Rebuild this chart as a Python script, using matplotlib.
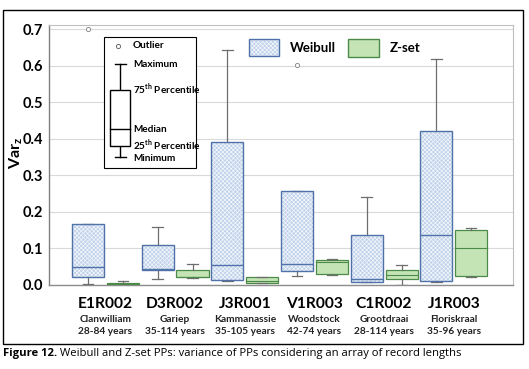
import numpy as np
import matplotlib
import matplotlib.pyplot as plt
import matplotlib.patches as mpatches
from matplotlib import transforms

plt.rcParams['font.family'] = ['Lato', 'DejaVu Sans']
plt.rcParams['mathtext.fontset'] = 'custom'
plt.rcParams['mathtext.rm'] = 'Lato:bold'
plt.rcParams['hatch.linewidth'] = 0.5

sites = ["E1R002", "D3R002", "J3R001", "V1R003", "C1R002", "J1R003"]
names = ["Clanwilliam", "Gariep", "Kammanassie", "Woodstock", "Grootdraai", "Floriskraal"]
spans = ["28-84 years", "35-114 years", "35-105 years", "42-74 years", "28-114 years", "35-96 years"]

# Weibull PPs - variance, box stats
wb_min = [0.003, 0.017, 0.011, 0.025, 0.007, 0.008]
wb_q1 = [0.021, 0.040, 0.015, 0.037, 0.008, 0.010]
wb_med = [0.049, 0.044, 0.056, 0.058, 0.017, 0.137]
wb_q3 = [0.168, 0.110, 0.392, 0.257, 0.137, 0.421]
wb_max = [0.168, 0.158, 0.644, 0.257, 0.240, 0.617]
wb_out = [[0.700], [], [], [0.601], [], []]

# Z-set PPs
zs_min = [0.000, 0.019, 0.005, 0.028, 0.001, 0.023]
zs_q1 = [0.001, 0.021, 0.006, 0.031, 0.016, 0.024]
zs_med = [0.003, 0.023, 0.012, 0.064, 0.027, 0.102]
zs_q3 = [0.005, 0.042, 0.021, 0.069, 0.040, 0.151]
zs_max = [0.011, 0.058, 0.022, 0.070, 0.054, 0.155]
zs_out = [[], [], [], [], [], []]

yticks = [0.0, 0.1, 0.2, 0.3, 0.4, 0.5, 0.6, 0.7]

W, H = 529, 369


def px(x, y):
    # pixel position -> figure fraction
    return x / W, 1 - y / H


def mkstats(lo, q1, med, q3, hi, out):
    return [dict(whislo=a, q1=b, med=c, q3=d, whishi=e, fliers=f)
            for a, b, c, d, e, f in zip(lo, q1, med, q3, hi, out)]


fig = plt.figure(figsize=(W / 100, H / 100), dpi=100)
ax = fig.add_axes([49 / W, 1 - 285 / H, (513 - 49) / W, (285 - 25) / H])

x = np.arange(len(sites))
wcol = '#4f72a8'
wfill = '#c0d2eb'
hatch = 'xxxxxxxx'
whisk = dict(color='#6e6e6e', linewidth=0.9)
flier = dict(marker='o', markersize=3, markerfacecolor='white',
             markeredgecolor='#7f7f7f', markeredgewidth=0.6)

bw = ax.bxp(mkstats(wb_min, wb_q1, wb_med, wb_q3, wb_max, wb_out),
            positions=x - 0.25, widths=0.46, capwidths=0.15, patch_artist=True,
            boxprops=dict(facecolor=wfill, edgecolor='#f4f7fb', hatch=hatch, linewidth=0.0),
            medianprops=dict(color=wcol, linewidth=1.0),
            whiskerprops=whisk, capprops=whisk, flierprops=flier,
            manage_ticks=False, zorder=3)
for b in bw['boxes']:
    ax.add_patch(mpatches.PathPatch(b.get_path(), facecolor='none', edgecolor=wcol,
                                    linewidth=1.0, zorder=3.5))

ax.bxp(mkstats(zs_min, zs_q1, zs_med, zs_q3, zs_max, zs_out),
       positions=x + 0.25, widths=0.46, capwidths=0.15, patch_artist=True,
       boxprops=dict(facecolor='#c4e4b5', edgecolor='#4c8a48', linewidth=0.9),
       medianprops=dict(color='#4c8a48', linewidth=0.8),
       whiskerprops=whisk, capprops=whisk, flierprops=flier,
       manage_ticks=False, zorder=3)

ax.set_xlim(-0.81, 5.85)
ax.set_ylim(0, 0.711)
ax.set_yticks(yticks)
ax.set_yticklabels(['%.1f' % v for v in yticks], fontsize=10.5, fontweight='bold')
ax.set_xticks([])
ax.tick_params(axis='y', length=0, pad=4)
ax.yaxis.grid(True, color='#d9d9d9', linewidth=0.8, zorder=0)
ax.set_axisbelow(True)
for s in ['top', 'right']:
    ax.spines[s].set_color('#bfbfbf')
ax.spines['left'].set_color('#808080')
ax.spines['bottom'].set_color('#8c8c8c')
ax.spines['left'].set_linewidth(1.0)
ax.spines['bottom'].set_linewidth(1.0)

fig.text(*px(16, 153), 'Var$_\\mathregular{z}$', rotation=90, fontsize=11.5,
         fontweight='bold', ha='center', va='center')

# category labels under the plot
tr = transforms.blended_transform_factory(ax.transData, fig.transFigure)
for i in range(len(sites)):
    fig.text(x[i], px(0, 304)[1], sites[i], transform=tr, ha='center', va='center',
             fontsize=11.2, fontweight='bold')
    fig.text(x[i], px(0, 319)[1], names[i], transform=tr, ha='center', va='center',
             fontsize=7.3, fontweight='bold', color='#222222')
    fig.text(x[i], px(0, 332)[1], spans[i], transform=tr, ha='center', va='center',
             fontsize=7.3, fontweight='bold', color='#222222')

# series legend
fig.patches.append(mpatches.Rectangle(px(249, 56), 30 / W, 17 / H, transform=fig.transFigure,
                                      facecolor=wfill, edgecolor='#f4f7fb', hatch=hatch, lw=0))
fig.patches.append(mpatches.Rectangle(px(249, 56), 30 / W, 17 / H, transform=fig.transFigure,
                                      facecolor='none', edgecolor=wcol, lw=1.0))
fig.text(*px(290, 48), 'Weibull', fontsize=9.5, fontweight='bold', va='center')
fig.patches.append(mpatches.Rectangle(px(348, 56.5), 31 / W, 17.5 / H, transform=fig.transFigure,
                                      facecolor='#c4e4b5', edgecolor='#4c8a48', lw=1.0))
fig.text(*px(390, 48), 'Z-set', fontsize=9.5, fontweight='bold', va='center')

# box-plot key
fig.patches.append(mpatches.Rectangle(px(104, 168), 92 / W, 131 / H, transform=fig.transFigure,
                                      facecolor='white', edgecolor='black', lw=0.8, zorder=5))
kfs = 7.2
fig.add_artist(plt.Line2D(*zip(px(118, 46)), marker='o', markersize=3, markerfacecolor='white',
                          markeredgecolor='#555555', markeredgewidth=0.6, zorder=6))
fig.text(*px(133, 46), 'Outlier', fontsize=kfs, fontweight='bold', va='center', zorder=6)
kx0, kx1, kc = 110, 130, 120
for y0, y1 in [(64, 90), (146, 157)]:
    fig.add_artist(plt.Line2D(*zip(px(kc, y0), px(kc, y1)), color='black', lw=1.0, zorder=6))
for yc in [64, 157]:
    fig.add_artist(plt.Line2D(*zip(px(kc - 5.5, yc), px(kc + 5.5, yc)), color='black', lw=1.0, zorder=6))
fig.patches.append(mpatches.Rectangle(px(kx0, 146), (kx1 - kx0) / W, 56 / H, transform=fig.transFigure,
                                      facecolor='white', edgecolor='black', lw=1.0, zorder=6))
fig.add_artist(plt.Line2D(*zip(px(kx0, 128.5), px(kx1, 128.5)), color='black', lw=1.0, zorder=7))
fig.text(*px(133, 64.5), 'Maximum', fontsize=kfs, fontweight='bold', va='center', zorder=6)
fig.text(*px(133, 93.5), '75$^\\mathregular{th}$ Percentile', fontsize=kfs, fontweight='bold',
         va='baseline', zorder=6)
fig.text(*px(133, 129), 'Median', fontsize=kfs, fontweight='bold', va='center', zorder=6)
fig.text(*px(133, 149.5), '25$^\\mathregular{th}$ Percentile', fontsize=kfs, fontweight='bold',
         va='baseline', zorder=6)
fig.text(*px(133, 158.5), 'Minimum', fontsize=kfs, fontweight='bold', va='center', zorder=6)

# outer frame
fig.patches.append(mpatches.Rectangle(px(3, 344), 520 / W, 334.5 / H, transform=fig.transFigure,
                                      facecolor='none', edgecolor='black', lw=1.0))

# caption
cap = fig.text(*px(3, 356), 'Figure 12.', fontsize=8.1, fontweight='bold', va='baseline',
               family=['Open Sans', 'DejaVu Sans'])
fig.text(0, 0, ' Weibull and Z-set PPs: variance of PPs considering an array of record lengths',
         fontsize=8.1, va='baseline', family=['Open Sans', 'DejaVu Sans'],
         transform=transforms.offset_copy(fig.transFigure, fig=fig, x=0, y=0))
fig.texts[-1].remove()
fig.add_artist(matplotlib.text.Annotation(
    ' Weibull and Z-set PPs: variance of PPs considering an array of record lengths',
    xy=(1, 0.5), xycoords=cap, va='center', fontsize=8.1, family=['Open Sans', 'DejaVu Sans']))

fig.savefig('out.png', dpi=100)
